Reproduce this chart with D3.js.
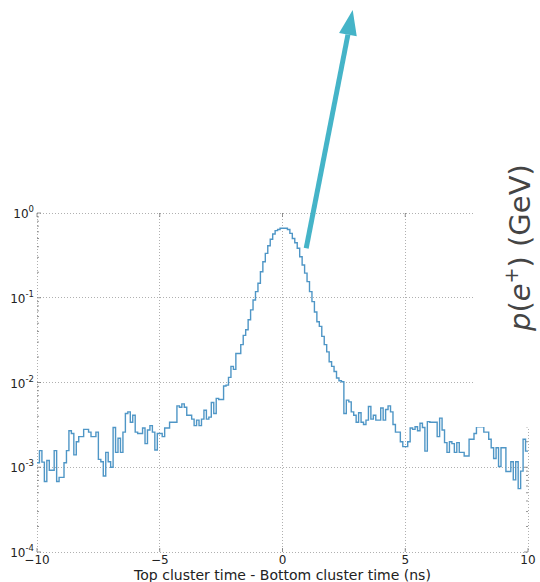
<!DOCTYPE html>
<html>
<head>
<meta charset="utf-8">
<script src="https://cdn.jsdelivr.net/npm/d3@7"></script>
<style>
  html, body { margin: 0; padding: 0; background: #fff; }
  svg { display: block; }
</style>
</head>
<body>
<svg id="chart" width="540" height="582"></svg>
<script>
// ---- data ----
const binLow = -10, binHigh = 10, binCount = 200;
const counts = [
  1.13e-3,1.57e-3,1.15e-3,6.8e-4,1.2e-3,9.2e-4,9.2e-4,1.57e-3,6.8e-4,7.6e-4,
  7.6e-4,1.13e-3,1.57e-3,2.7e-3,2.5e-3,1.4e-3,2.0e-3,2.3e-3,2.3e-3,2.8e-3,
  2.8e-3,2.6e-3,2.3e-3,2.3e-3,2.6e-3,1.24e-3,1.16e-3,7.9e-4,1.5e-3,1.16e-3,
  1.0e-3,2.95e-3,1.5e-3,2.2e-3,1.5e-3,2.6e-3,4.3e-3,4.5e-3,3.4e-3,4.1e-3,
  2.6e-3,2.5e-3,2.5e-3,2.9e-3,1.9e-3,2.75e-3,3.1e-3,2.6e-3,1.6e-3,2.5e-3,
  2.5e-3,2.3e-3,2.9e-3,2.9e-3,3.4e-3,3.4e-3,3.4e-3,5.3e-3,5.1e-3,5.6e-3,
  5.1e-3,4.1e-3,4.1e-3,3.7e-3,3.1e-3,3.6e-3,3.1e-3,3.7e-3,4.7e-3,3.7e-3,
  3.9e-3,5.8e-3,4.3e-3,6.5e-3,6.3e-3,6.3e-3,9.1e-3,9.3e-3,1.15e-2,1.55e-2,
  1.43e-2,2.2e-2,2.2e-2,2.8e-2,3.6e-2,4.2e-2,5.5e-2,7.2e-2,9.4e-2,0.118,
  0.148,0.203,0.266,0.334,0.41,0.49,0.565,0.62,0.64,0.66,
  0.66,0.66,0.64,0.575,0.5,0.446,0.383,0.305,0.243,0.195,
  0.155,0.118,0.09,0.068,0.052,0.046,0.035,0.028,0.023,0.0176,
  0.0155,0.0135,0.0113,0.0105,0.0102,4.3e-3,6.2e-3,5.9e-3,4.5e-3,4.1e-3,
  3.4e-3,4.4e-3,3.4e-3,3.2e-3,3.6e-3,5.2e-3,3.7e-3,4.1e-3,3.6e-3,3.6e-3,
  5.0e-3,3.6e-3,4.8e-3,5.3e-3,4.5e-3,3.2e-3,2.6e-3,2.6e-3,2.0e-3,1.75e-3,
  1.75e-3,2.0e-3,2.9e-3,2.8e-3,3.0e-3,2.7e-3,3.3e-3,2.95e-3,1.55e-3,3.45e-3,
  3.4e-3,3.4e-3,3.4e-3,2.3e-3,3.8e-3,2.75e-3,1.95e-3,1.5e-3,2.0e-3,1.9e-3,
  1.5e-3,1.95e-3,1.5e-3,1.5e-3,1.36e-3,1.36e-3,2.14e-3,2.14e-3,2.5e-3,3.0e-3,
  3.0e-3,3.0e-3,2.6e-3,2.6e-3,2.14e-3,1.7e-3,1.27e-3,1.7e-3,1.02e-3,1.7e-3,
  1.7e-3,8.9e-4,8.9e-4,1.16e-3,7.1e-4,1.16e-3,5.6e-4,9e-4,2.14e-3,1.55e-3
];
const xTicks = [-10, -5, 0, 5, 10];
const xTickLabels = ["\u221210", "\u22125", "0", "5", "10"];
const yTickExponents = [0, -1, -2, -3, -4];
const xLabel = "Top cluster time - Bottom cluster time (ns)";
// arrow annotation, in data coordinates: [x (ns), y]
const arrowStart = [0.965, 0.383];
const arrowEnd = [2.86, 248];

// ---- layout ----
const svg = d3.select("#chart");
const pL = 37, pR = 528, pT = 213, pB = 552;
const x = d3.scaleLinear().domain([binLow, binHigh]).range([pL, pR]);
const y = d3.scaleLog().domain([1e-4, 1]).range([pB, pT]);

const gridColor = "#b0b0b0";
const g = svg.append("g");

// grid lines (also form the frame)
const yMajors = yTickExponents.map(e => Math.pow(10, e));
g.selectAll("line.hgrid").data(yMajors).enter().append("line")
  .attr("x1", pL).attr("x2", pR)
  .attr("y1", d => y(d)).attr("y2", d => y(d))
  .attr("stroke", gridColor).attr("stroke-width", 1).attr("stroke-dasharray", "1,2")
  .attr("shape-rendering", "crispEdges");
g.selectAll("line.vgrid").data(xTicks).enter().append("line")
  .attr("y1", pT).attr("y2", pB)
  .attr("x1", d => x(d)).attr("x2", d => x(d))
  .attr("stroke", gridColor).attr("stroke-width", 1).attr("stroke-dasharray", "1,2")
  .attr("shape-rendering", "crispEdges");

// ticks
const tickColor = "#777";
const minors = [];
for (let e = -4; e < 0; e++) for (let m = 2; m <= 9; m++) minors.push(m * Math.pow(10, e));
[pL, pR].forEach((xp, i) => {
  const dir = i === 0 ? 1 : -1;
  g.selectAll(null).data(yMajors).enter().append("line")
    .attr("x1", xp).attr("x2", xp + dir * 4)
    .attr("y1", d => y(d)).attr("y2", d => y(d))
    .attr("stroke", tickColor).attr("stroke-width", 0.8);
  g.selectAll(null).data(minors).enter().append("line")
    .attr("x1", xp).attr("x2", xp + dir * 2)
    .attr("y1", d => y(d)).attr("y2", d => y(d))
    .attr("stroke", tickColor).attr("stroke-width", 0.8);
});
[pB, pT].forEach((yp, i) => {
  const dir = i === 0 ? -1 : 1;
  g.selectAll(null).data(xTicks).enter().append("line")
    .attr("y1", yp).attr("y2", yp + dir * 4)
    .attr("x1", d => x(d)).attr("x2", d => x(d))
    .attr("stroke", tickColor).attr("stroke-width", 0.8);
});

// histogram step line
const binW = (binHigh - binLow) / binCount;
const pts = counts.map((v, i) => [binLow + i * binW, v]);
pts.push([binHigh, counts[counts.length - 1]]);
const line = d3.line().x(d => x(d[0])).y(d => y(d[1])).curve(d3.curveStepAfter);
g.append("path").datum(pts)
  .attr("d", line)
  .attr("fill", "none")
  .attr("stroke", "#4f96c6")
  .attr("stroke-width", 1.4)
  .attr("stroke-linejoin", "miter");

// tick labels
const font = "DejaVu Sans, sans-serif";
g.selectAll("text.xt").data(xTicks).enter().append("text")
  .attr("x", (d) => x(d)).attr("y", 564)
  .attr("text-anchor", "middle")
  .attr("font-family", font).attr("font-size", 12).attr("fill", "#222")
  .text((d, i) => xTickLabels[i]);

yTickExponents.forEach(e => {
  const t = g.append("text")
    .attr("x", 34).attr("y", y(Math.pow(10, e)) + 5)
    .attr("text-anchor", "end")
    .attr("font-family", font).attr("font-size", 12).attr("fill", "#222");
  t.append("tspan").text("10");
  t.append("tspan").attr("dy", -6).attr("font-size", 8.5).text(e === 0 ? "0" : "-" + Math.abs(e));
});

// x label
g.append("text")
  .attr("x", (pL + pR) / 2).attr("y", 580)
  .attr("text-anchor", "middle")
  .attr("font-family", font).attr("font-size", 14).attr("fill", "#222")
  .text(xLabel);

// arrow
const ax0 = x(arrowStart[0]), ay0 = y(arrowStart[1]);
const ax1 = x(arrowEnd[0]), ay1 = y(arrowEnd[1]);
const ang = Math.atan2(ay1 - ay0, ax1 - ax0);
const headLen = 25, headHalf = 9;
const bx = ax1 - headLen * Math.cos(ang), by = ay1 - headLen * Math.sin(ang);
const arrowColor = "#45b4c8";
g.append("line")
  .attr("x1", ax0).attr("y1", ay0).attr("x2", bx).attr("y2", by)
  .attr("stroke", arrowColor).attr("stroke-width", 5);
const px = -Math.sin(ang), py = Math.cos(ang);
g.append("polygon")
  .attr("points", [[ax1, ay1], [bx + px * headHalf, by + py * headHalf], [bx - px * headHalf, by - py * headHalf]].map(p => p.join(",")).join(" "))
  .attr("fill", arrowColor);

// white box behind the rotated label
g.append("rect").attr("x", 473).attr("y", 0).attr("width", 67).attr("height", 427).attr("fill", "#fff");

// rotated label p(e+) (GeV)
const lab = g.append("text")
  .attr("transform", "translate(530,331) rotate(-90)")
  .attr("font-family", font).attr("font-size", 29).attr("fill", "#444");
lab.append("tspan").attr("font-style", "italic").text("p");
lab.append("tspan").text("(");
lab.append("tspan").attr("font-style", "italic").text("e");
lab.append("tspan").attr("dy", -12).attr("font-size", 19).text("+");
lab.append("tspan").attr("dy", 12).text(") (GeV)");
</script>
</body>
</html>
